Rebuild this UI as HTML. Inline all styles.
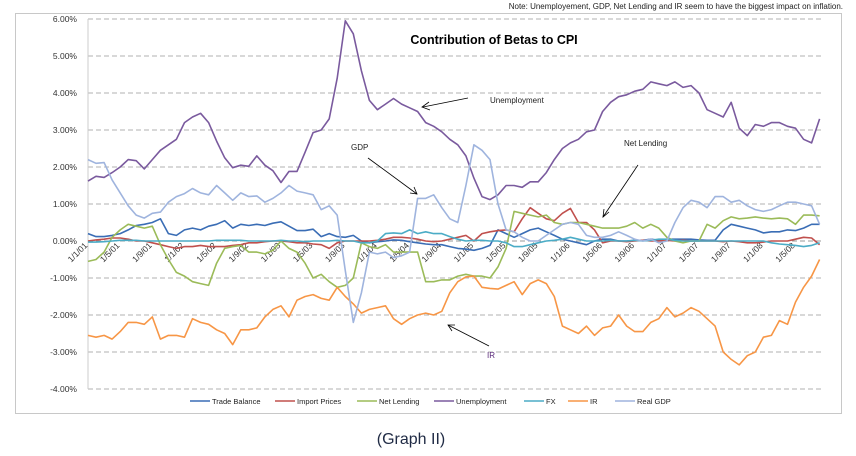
<!DOCTYPE html>
<html><head><meta charset="utf-8"><style>
html,body{margin:0;padding:0;background:#fff;}
body{width:856px;height:451px;overflow:hidden;font-family:"Liberation Sans",sans-serif;}
svg text{font-family:"Liberation Sans",sans-serif;}
</style></head><body>
<svg id="chart" width="856" height="451" viewBox="0 0 856 451" xmlns="http://www.w3.org/2000/svg">
<text x="843" y="9" font-size="8" fill="#222" text-anchor="end">Note:  Unemployement, GDP, Net Lending and IR seem to have the biggest impact on inflation.</text>
<line x1="15" y1="13.5" x2="842" y2="13.5" stroke="#666" stroke-width="1" stroke-dasharray="1,1"/>
<rect x="15.5" y="13.5" width="826" height="400" fill="none" stroke="#c8c8c8" stroke-width="1"/>
<text x="494" y="44" font-size="12.5" font-weight="bold" text-anchor="middle" fill="#000">Contribution of Betas to CPI</text>
<g id="grid"></g><g id="yaxis"></g><g id="xaxis"></g><g id="series"></g>
<g id="annot">
<text x="490" y="103" font-size="8" fill="#222">Unemployment</text>
<line x1="468" y1="98" x2="423" y2="107" stroke="#000" stroke-width="0.8"/>
<polyline points="429,102 422,107 430,110" fill="none" stroke="#000" stroke-width="0.8"/>
<text x="351" y="150" font-size="8" fill="#222">GDP</text>
<line x1="368" y1="158" x2="417" y2="194" stroke="#000" stroke-width="0.8"/>
<polyline points="410,193 417,194 414,187" fill="none" stroke="#000" stroke-width="0.8"/>
<text x="624" y="146" font-size="8" fill="#222">Net Lending</text>
<line x1="638" y1="165" x2="603" y2="217" stroke="#000" stroke-width="0.8"/>
<polyline points="604,209 603,217 609,212" fill="none" stroke="#000" stroke-width="0.8"/>
<text x="487" y="358" font-size="8" fill="#5a2a7a">IR</text>
<line x1="489" y1="346" x2="448" y2="325" stroke="#000" stroke-width="0.8"/>
<polyline points="455,325 448,325 452,331" fill="none" stroke="#000" stroke-width="0.8"/>
</g>
<g id="legend"></g>
<text x="411" y="444" font-size="16" text-anchor="middle" fill="#1f2a44">(Graph II)</text>
</svg>
<script>
const yTicks=[6,5,4,3,2,1,0,-1,-2,-3,-4];
const xLabels=["1/1/01","1/5/01","1/9/01","1/1/02","1/5/02","1/9/02","1/1/03","1/5/03","1/9/03","1/1/04","1/5/04","1/9/04","1/1/05","1/5/05","1/9/05","1/1/06","1/5/06","1/9/06","1/1/07","1/5/07","1/9/07","1/1/08","1/5/08"];
const seriesNames=["Trade Balance","Import Prices","Net Lending","Unemployment","FX","IR","Real GDP"];
const tradeBalance=[0.2,0.12,0.12,0.15,0.2,0.3,0.42,0.45,0.5,0.6,0.2,0.15,0.3,0.35,0.3,0.4,0.45,0.55,0.35,0.45,0.42,0.45,0.42,0.48,0.52,0.4,0.28,0.28,0.32,0.12,0.2,0.12,0.1,0.15,0.0,-0.05,-0.02,0.0,0.03,0.02,-0.02,-0.05,-0.08,-0.1,-0.1,-0.15,-0.2,-0.22,-0.25,-0.2,-0.12,0.3,0.2,0.1,0.2,0.3,0.35,0.25,0.15,0.05,0.0,-0.05,-0.1,0.0,0.05,0.05,0.0,0.0,0.02,0.02,0.05,0.02,0.05,0.05,0.05,0.05,0.03,0.02,0.02,0.3,0.45,0.4,0.35,0.3,0.22,0.25,0.25,0.3,0.28,0.35,0.45,0.45];
const importPrices=[0.0,0.03,0.05,0.08,0.08,0.05,0.0,0.0,-0.05,-0.1,-0.15,-0.2,-0.15,-0.15,-0.12,-0.15,-0.15,-0.15,-0.12,-0.1,-0.05,-0.05,-0.02,0.0,0.0,-0.02,-0.05,-0.05,-0.08,-0.1,-0.2,-0.05,0.0,0.0,0.0,0.0,0.02,0.05,0.1,0.1,0.08,0.05,0.0,-0.02,0.0,0.05,0.1,0.15,0.0,0.2,0.25,0.28,0.3,0.25,0.6,0.9,0.75,0.6,0.55,0.75,0.88,0.5,0.5,0.3,-0.05,0.0,0.0,-0.02,0.0,0.02,0.0,0.0,0.02,0.0,0.02,0.0,0.0,0.0,0.0,-0.02,0.0,-0.02,-0.05,-0.05,-0.03,0.0,0.0,0.0,0.05,0.1,0.08,-0.1];
const netLending=[-0.55,-0.5,-0.3,0.1,0.3,0.45,0.4,0.35,0.4,-0.1,-0.5,-0.85,-0.95,-1.1,-1.15,-1.2,-0.6,-0.2,-0.15,-0.12,-0.3,-0.3,-0.35,-0.25,0.0,-0.2,-0.3,-0.6,-1.0,-0.9,-1.1,-1.25,-1.2,-1.0,-0.05,-0.15,-0.2,-0.1,-0.3,-0.3,-0.3,-0.3,-1.1,-1.1,-1.05,-1.05,-0.95,-0.9,-0.95,-0.95,-1.0,-0.7,-0.2,0.8,0.75,0.7,0.65,0.7,0.5,0.45,0.5,0.5,0.45,0.4,0.35,0.35,0.35,0.4,0.5,0.35,0.45,0.35,0.1,0.0,-0.05,0.0,0.0,0.45,0.35,0.55,0.65,0.6,0.62,0.65,0.62,0.6,0.62,0.6,0.45,0.7,0.7,0.68];
const unemployment=[1.62,1.75,1.72,1.85,2.0,2.2,2.17,1.95,2.2,2.45,2.6,2.75,3.2,3.35,3.45,3.2,2.7,2.25,1.98,2.05,2.02,2.3,2.05,1.9,1.58,1.88,1.88,2.4,2.93,3.0,3.3,4.4,5.95,5.6,4.6,3.8,3.55,3.7,3.85,3.7,3.6,3.5,3.2,3.1,2.95,2.75,2.6,2.3,1.7,1.2,1.12,1.25,1.5,1.5,1.45,1.6,1.6,1.85,2.2,2.5,2.65,2.75,2.95,3.0,3.5,3.75,3.9,3.95,4.05,4.1,4.3,4.25,4.2,4.3,4.15,4.2,4.0,3.55,3.45,3.35,3.75,3.05,2.85,3.15,3.1,3.2,3.2,3.1,3.05,2.75,2.65,3.3];
const fx=[-0.03,-0.03,-0.02,0.0,0.02,0.02,0.02,0.0,0.0,0.0,0.0,0.0,0.0,0.0,0.0,0.0,0.02,0.02,0.02,0.02,0.0,0.0,0.0,0.0,0.02,0.0,0.0,-0.02,0.0,0.0,0.0,0.02,0.0,0.0,-0.05,-0.05,0.0,0.2,0.22,0.2,0.3,0.2,0.25,0.2,0.2,0.12,0.05,0.0,0.02,0.02,0.0,0.0,-0.05,-0.15,-0.15,-0.1,-0.05,0.0,0.02,0.05,0.1,0.05,0.0,0.0,0.0,0.02,0.0,0.0,0.02,0.0,0.02,0.05,0.05,0.02,0.0,0.0,0.0,0.0,0.0,0.0,0.0,0.0,0.0,0.0,0.0,-0.05,-0.08,-0.1,-0.12,-0.15,-0.12,-0.05];
const ir=[-2.55,-2.6,-2.55,-2.65,-2.45,-2.2,-2.2,-2.25,-2.05,-2.65,-2.55,-2.55,-2.6,-2.1,-2.2,-2.25,-2.4,-2.5,-2.8,-2.4,-2.4,-2.35,-2.05,-1.85,-1.75,-2.05,-1.6,-1.5,-1.45,-1.55,-1.6,-1.25,-1.5,-1.7,-1.95,-1.85,-1.8,-1.75,-2.1,-2.25,-2.1,-2.0,-1.95,-2.0,-1.9,-1.4,-1.1,-0.97,-0.95,-1.25,-1.28,-1.3,-1.2,-1.1,-1.45,-1.15,-1.05,-1.15,-1.5,-2.3,-2.4,-2.5,-2.3,-2.55,-2.35,-2.3,-2.0,-2.3,-2.45,-2.45,-2.2,-2.1,-1.8,-2.05,-1.95,-1.8,-1.9,-2.1,-2.3,-3.0,-3.2,-3.35,-3.1,-3.0,-2.6,-2.55,-2.15,-2.25,-1.65,-1.25,-0.95,-0.5];
const realGdp=[2.2,2.1,2.12,1.65,1.3,0.95,0.7,0.62,0.75,0.78,1.05,1.2,1.28,1.42,1.3,1.25,1.5,1.3,1.1,1.3,1.2,1.22,1.05,1.15,1.3,1.5,1.35,1.3,1.25,0.85,0.95,0.7,-0.8,-2.2,-1.4,-0.3,-0.35,-0.3,-0.45,-0.4,-0.3,1.15,1.15,1.25,0.9,0.6,0.5,1.5,2.6,2.45,2.2,1.0,0.3,0.25,0.1,0.0,0.0,0.15,0.3,0.45,0.5,0.45,0.15,0.1,0.1,0.15,0.25,0.15,0.05,0.0,0.05,-0.05,0.0,0.5,0.9,1.1,1.05,0.9,1.2,1.2,1.05,1.1,0.95,0.85,0.8,0.85,0.95,1.05,1.05,1.0,0.95,0.45];
const seriesData=[tradeBalance,importPrices,netLending,unemployment,fx,ir,realGdp];
const seriesColors=["#3a6db5","#c0504d","#9bbb59","#7a5a9e","#4bacc6","#f79646","#9fb4de"];

const NS="http://www.w3.org/2000/svg";
const X0=88, DX=8.04, Y0=241, PPU=37;
function xs(i){return X0+i*DX;}
function ys(v){return Y0-v*PPU;}
function mk(tag,attrs,parent){const e=document.createElementNS(NS,tag);for(const k in attrs)e.setAttribute(k,attrs[k]);parent.appendChild(e);return e;}

const grid=document.getElementById('grid');
const yax=document.getElementById('yaxis');
yTicks.forEach(t=>{
  const g=mk('line',{x1:X0,x2:823,y1:ys(t),y2:ys(t),stroke:t===0?'#777':'#999','stroke-width':0.8,'stroke-dasharray':'5,3'},grid);
  
  
  const lb=mk('text',{x:77,y:ys(t)+3,'font-size':8.5,'text-anchor':'end',fill:'#333'},yax);
  lb.textContent=t.toFixed(2)+'%';
  
  
});
const ax=mk('line',{x1:X0,x2:X0,y1:ys(6),y2:ys(-4),stroke:'#ccc','stroke-width':1},yax);



const xax=document.getElementById('xaxis');
xLabels.forEach((l,k)=>{
  const x=xs(k*4), y=Y0+5;
  const t=mk('text',{x:x,y:y,'font-size':8.5,'text-anchor':'end',fill:'#333',transform:`rotate(-45 ${x} ${y})`},xax);
  t.textContent=l;
  
  
});

const ser=document.getElementById('series');
seriesData.forEach((arr,s)=>{
  const pts=arr.map((v,i)=>xs(i).toFixed(1)+','+ys(v).toFixed(1)).join(' ');
  const p=mk('polyline',{points:pts,fill:'none',stroke:seriesColors[s],'stroke-width':1.6,'stroke-linejoin':'round'},ser);
  
  
});

const leg=document.getElementById('legend');
const legX=[190,275,357,434,524,568,615];
seriesNames.forEach((n,s)=>{
  const l=mk('line',{x1:legX[s],x2:legX[s]+20,y1:401,y2:401,stroke:seriesColors[s],'stroke-width':1.5},leg);
  
  
  const t=mk('text',{x:legX[s]+22,y:404,'font-size':7.5,fill:'#222'},leg);
  t.textContent=n;
  
  
});
</script>
</body></html>
